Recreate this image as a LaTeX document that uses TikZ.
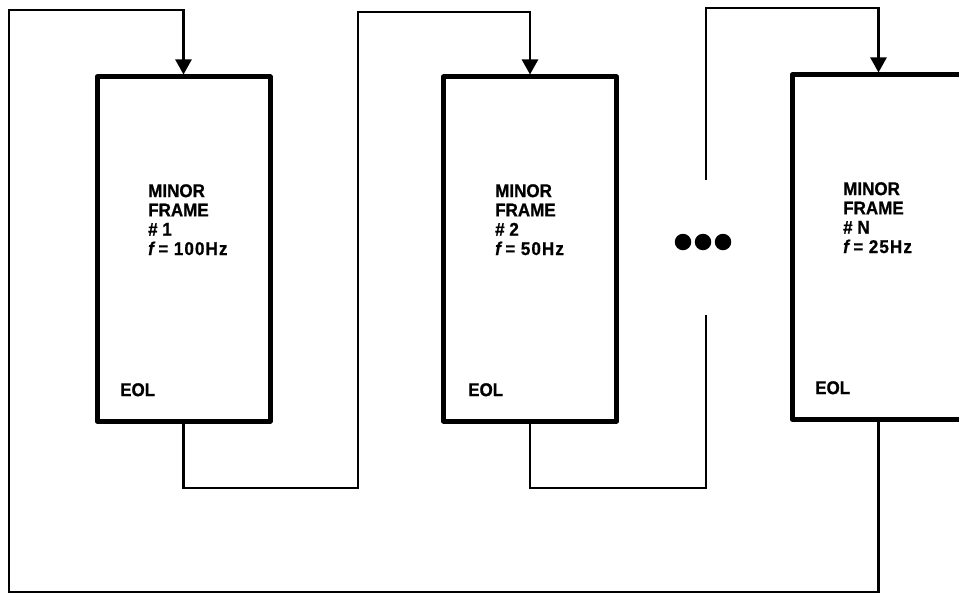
\documentclass[tikz,border=0pt]{standalone}
\usepackage{fontspec}
\setmainfont{Liberation Sans}
\newfontfamily\heavyfont[FakeBold=0.8,FakeStretch=0.92]{Liberation Sans}
\usetikzlibrary{arrows.meta}
\tikzset{
  framebox/.style={draw, line width=5pt, line join=round, minimum width=173pt, minimum height=344pt, inner sep=0pt},
  conn/.style={line width=2.4pt},
  arr/.style={conn, -{Triangle[length=15pt,width=16pt]}},
  label/.style={anchor=north west, inner sep=0pt, align=left, font=\heavyfont\fontsize{18.5}{19.3}\selectfont\bfseries},
  eol/.style={anchor=north west, inner sep=0pt, font=\heavyfont\fontsize{18.5}{19.3}\selectfont\bfseries},
  dot/.style={circle, fill=black, minimum size=16.5pt, inner sep=0pt}
}
\newcommand{\freqline}[1]{\textit{f}\,=\hspace{0.3em}{\addfontfeature{LetterSpace=6}#1}}
\begin{document}
\begin{tikzpicture}[x=1pt,y=-1pt]
\useasboundingbox (0,0) rectangle (959,594);
% boxes
\node[framebox] (b1) at (183.5,249) {};
\node[framebox] (b2) at (530,249) {};
\node[framebox] (b3) at (878.5,247) {};
% texts
\node[label] (t1) at (148,184) {MINOR\\FRAME\\\# 1\\\freqline{100Hz}};
\node[label] (t2) at (495,184) {MINOR\\FRAME\\\# 2\\\freqline{50Hz}};
\node[label] (t3) at (843,182) {MINOR\\FRAME\\\# N\\\freqline{25Hz}};
\node[eol] (e1) at (120,383) {EOL};
\node[eol] (e2) at (468,383) {EOL};
\node[eol] (e3) at (815,381) {EOL};
% dots
\node[dot] (d1) at (683,242) {};
\node[dot] (d2) at (703,242) {};
\node[dot] (d3) at (723,242) {};
% coordinates
\coordinate (bl) at (9,592);
\coordinate (tl) at (9,10);
\coordinate (m1b) at (358,488);
\coordinate (m1t) at (358,12);
\coordinate (m2b) at (706,488);
\coordinate (gapb) at (706,315);
\coordinate (gapt) at (706,180);
\coordinate (m2t) at (706,8);
% connectors
\draw[arr] (b3.south) |- (bl) -- (tl) -| (b1.north);
\draw[arr] (b1.south) |- (m1b) -- (m1t) -| (b2.north);
\draw[conn] (b2.south) |- (m2b) -- (gapb);
\draw[arr] (gapt) -- (m2t) -| (b3.north);
\end{tikzpicture}
\end{document}
